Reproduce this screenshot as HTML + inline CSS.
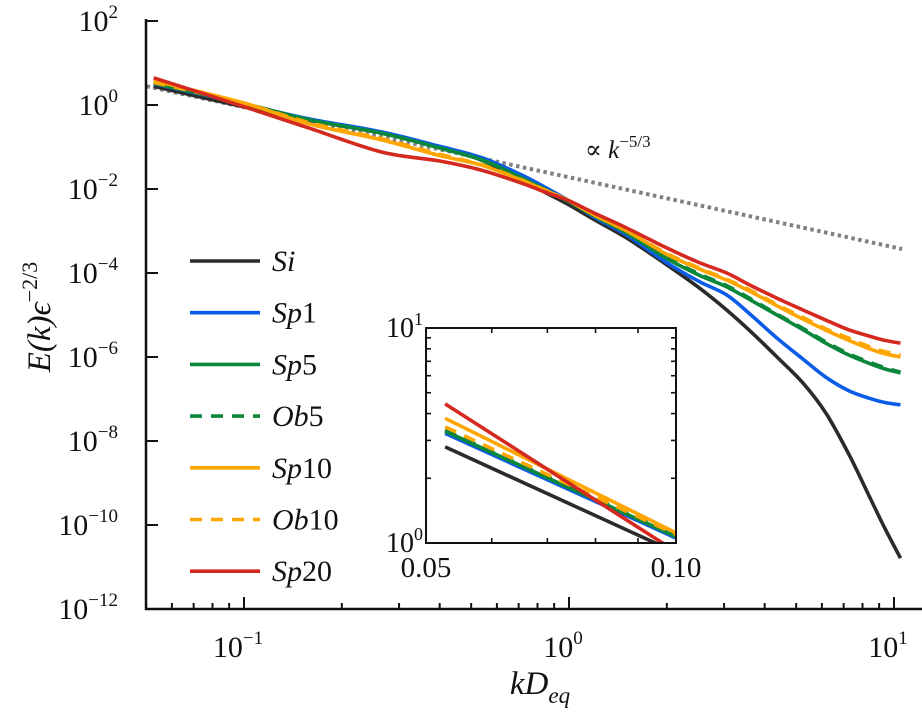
<!DOCTYPE html>
<html><head><meta charset="utf-8"><style>
html,body{margin:0;padding:0;background:#fff;width:922px;height:727px;overflow:hidden}
svg{display:block}
text{font-family:"Liberation Serif","DejaVu Serif",serif;fill:#111}
</style></head><body>
<svg id="chart" width="922" height="727" viewBox="0 0 922 727" xmlns="http://www.w3.org/2000/svg" font-family="Liberation Serif, DejaVu Serif, serif">
<g id="main"></g>
<g id="inset"></g>
<g id="legend"></g>
<text transform="translate(50,317) rotate(-90)" text-anchor="middle" font-size="33" font-style="italic">E(k)ϵ<tspan dy="-13" font-size="22" font-style="normal">−2/3</tspan></text>
<text x="540" y="694" text-anchor="middle" font-size="33" font-style="italic">kD<tspan dy="9" font-size="23">eq</tspan></text>
<text x="585" y="158" font-size="25">∝ <tspan font-style="italic">k</tspan><tspan dy="-11" font-size="17">−5/3</tspan></text>
</svg>
<script>
// data (log10 k, log10 E)
const logK = [-1.278,-1.0,-0.8,-0.577,-0.4,-0.27,-0.15,-0.064,0.0,0.08,0.178,0.3,0.4,0.485,0.56,0.64,0.72,0.79,0.86,0.923,0.97,1.02];
const siLogE   = [0.447,-0.044,-0.36,-0.67,-1.0,-1.31,-1.78,-2.12,-2.38,-2.74,-3.17,-3.8,-4.35,-4.88,-5.4,-6.0,-6.62,-7.33,-8.3,-9.3,-10.05,-10.79];
const sp1LogE  = [0.51,0.023,-0.33,-0.64,-0.98,-1.25,-1.65,-2.0,-2.28,-2.68,-3.1,-3.75,-4.2,-4.52,-5.0,-5.55,-6.05,-6.48,-6.8,-6.98,-7.08,-7.14];
const sp5LogE  = [0.52,0.03,-0.35,-0.67,-1.02,-1.3,-1.72,-2.05,-2.3,-2.65,-3.05,-3.65,-4.05,-4.33,-4.65,-5.0,-5.35,-5.67,-5.95,-6.15,-6.28,-6.38];
const ob5LogE  = [0.525,0.035,-0.35,-0.67,-1.02,-1.31,-1.72,-2.05,-2.3,-2.65,-3.04,-3.63,-4.02,-4.3,-4.62,-4.98,-5.32,-5.64,-5.92,-6.12,-6.25,-6.36];
const sp10LogE = [0.58,0.047,-0.45,-0.83,-1.2,-1.43,-1.78,-2.06,-2.28,-2.63,-3.0,-3.55,-3.9,-4.17,-4.45,-4.78,-5.1,-5.36,-5.6,-5.8,-5.92,-6.0];
const ob10LogE = [0.54,0.04,-0.42,-0.8,-1.17,-1.42,-1.77,-2.06,-2.28,-2.63,-3.0,-3.53,-3.88,-4.15,-4.42,-4.75,-5.06,-5.33,-5.55,-5.75,-5.87,-5.95];
const sp20LogE = [0.647,-0.04,-0.55,-1.12,-1.33,-1.55,-1.85,-2.1,-2.28,-2.58,-2.93,-3.4,-3.75,-4.0,-4.3,-4.6,-4.88,-5.12,-5.35,-5.5,-5.6,-5.67];
const refLogC = -1.72, refSlope = -5/3, refRange = [-1.3, 1.025];
const seriesNames = ["Si","Sp1","Sp5","Ob5","Sp10","Ob10","Sp20"];
const yTickExps = [2,0,-2,-4,-6,-8,-10,-12];
const xTickExps = [-1,0,1];
const insetXLabels = ["0.05","0.10"];

const NS="http://www.w3.org/2000/svg";
function mk(tag,attrs,parent){const e=document.createElementNS(NS,tag);for(const k in attrs)e.setAttribute(k,attrs[k]);parent.appendChild(e);return e;}
const series=[
 {d:siLogE,c:"#2b2b2b",dash:null},
 {d:sp1LogE,c:"#0b5ce8",dash:null},
 {d:sp5LogE,c:"#0a873b",dash:null},
 {d:ob5LogE,c:"#0a873b",dash:"12 9"},
 {d:sp10LogE,c:"#ffa500",dash:null},
 {d:ob10LogE,c:"#ffa500",dash:"12 9"},
 {d:sp20LogE,c:"#d5291f",dash:null}];
function smooth(pts){
 let d="M"+pts[0][0]+","+pts[0][1];
 for(let i=0;i<pts.length-1;i++){
  const p0=pts[Math.max(0,i-1)],p1=pts[i],p2=pts[i+1],p3=pts[Math.min(pts.length-1,i+2)];
  const c1=[p1[0]+(p2[0]-p0[0])/6,p1[1]+(p2[1]-p0[1])/6],c2=[p2[0]-(p3[0]-p1[0])/6,p2[1]-(p3[1]-p1[1])/6];
  d+=" C"+c1[0]+","+c1[1]+" "+c2[0]+","+c2[1]+" "+p2[0]+","+p2[1];
 }
 return d;
}
const X=l=>569+(l)*325, Y=l=>105-l*42;
const main=document.getElementById('main');
let rl=mk('line',{x1:X(refRange[0]),y1:Y(refLogC+refSlope*refRange[0]),x2:X(refRange[1]),y2:Y(refLogC+refSlope*refRange[1]),stroke:"#808080","stroke-width":4,"stroke-dasharray":"3.5 3.5"},main);


series.forEach((s,i)=>{
 const p=mk('path',{d:smooth(logK.map((k,j)=>[X(k),Y(s.d[j])])),fill:"none",stroke:s.c,"stroke-width":3.6,"stroke-linejoin":"round"},main);
 if(s.dash)p.setAttribute('stroke-dasharray',s.dash);
 
 
});
mk('line',{x1:146,y1:19,x2:146,y2:610,stroke:"#111","stroke-width":2.5},main);
mk('line',{x1:145,y1:609,x2:922,y2:609,stroke:"#111","stroke-width":2.5},main);
yTickExps.forEach(e=>{
 mk('line',{x1:146,y1:Y(e),x2:158,y2:Y(e),stroke:"#111","stroke-width":2},main);
 const t=mk('text',{x:118,y:Y(e)+10,"text-anchor":"end","font-size":30},main);
 t.textContent="10";const s=mk('tspan',{dy:-13,"font-size":19},t);s.textContent=String(e).replace('-','−');
 
 
});
for(let d=-2;d<=1;d++)for(let m=1;m<10;m++){
 const l=d+Math.log10(m); const x=X(l); if(x<146||x>922)continue;
 mk('line',{x1:x,y1:609,x2:x,y2:m==1?597:603,stroke:"#111","stroke-width":2},main);
}
xTickExps.forEach(e=>{
 const t=mk('text',{x:X(e)-6,y:657,"text-anchor":"middle","font-size":30},main);
 t.textContent="10";const s=mk('tspan',{dy:-13,"font-size":19},t);s.textContent=String(e).replace('-','−');
 
 
});
// inset
const ins=document.getElementById('inset');
const IX=l=>426+(l+1.30103)/0.30103*250, IY=l=>543-l*215;
mk('rect',{x:426,y:328,width:250,height:215,fill:"#fff"},ins);
const cp=mk('clipPath',{id:"ic"},ins);mk('rect',{x:426,y:328,width:250,height:215},cp);
const ig=mk('g',{"clip-path":"url(#ic)"},ins);
series.forEach((s,i)=>{
 const p=mk('polyline',{points:logK.map((k,j)=>IX(k)+","+IY(s.d[j])).join(" "),fill:"none",stroke:s.c,"stroke-width":3.6},ig);
 if(s.dash)p.setAttribute('stroke-dasharray',s.dash);
 
 
});
mk('rect',{x:426,y:328,width:250,height:215,fill:"none",stroke:"#111","stroke-width":2},ins);
for(let m=2;m<10;m++){const y=IY(Math.log10(m));
 mk('line',{x1:426,y1:y,x2:431,y2:y,stroke:"#111","stroke-width":1.6},ins);
 mk('line',{x1:676,y1:y,x2:671,y2:y,stroke:"#111","stroke-width":1.6},ins);}
[0.06,0.07,0.08,0.09].forEach(v=>{const x=IX(Math.log10(v));
 mk('line',{x1:x,y1:543,x2:x,y2:538,stroke:"#111","stroke-width":1.6},ins);
 mk('line',{x1:x,y1:328,x2:x,y2:333,stroke:"#111","stroke-width":1.6},ins);});
[[1,328],[0,543]].forEach(([e,y])=>{const t=mk('text',{x:423,y:y+9,"text-anchor":"end","font-size":28},ins);
 t.textContent="10";const s=mk('tspan',{dy:-12,"font-size":18},t);s.textContent=String(e);
 
 });
insetXLabels.forEach((lb,i)=>{const t=mk('text',{x:i?676:426,y:577,"text-anchor":"middle","font-size":29},ins);t.textContent=lb;
 
 });
// legend
const lg=document.getElementById('legend');
series.forEach((s,i)=>{const y=261+i*51.7;
 const g=mk('g',{},lg);
 
 
 const l=mk('line',{x1:190,y1:y,x2:260,y2:y,stroke:s.c,"stroke-width":3.6},g);
 if(s.dash)l.setAttribute('stroke-dasharray',"12 9");
 const t=mk('text',{x:272,y:y+10,"font-size":30,"font-style":"italic"},g);
 const m=seriesNames[i].match(/^([A-Za-z]+)(\d*)$/);
 t.textContent=m[1];if(m[2]){const n=mk('tspan',{"font-style":"normal"},t);n.textContent=m[2];}
});
</script>
</body></html>
